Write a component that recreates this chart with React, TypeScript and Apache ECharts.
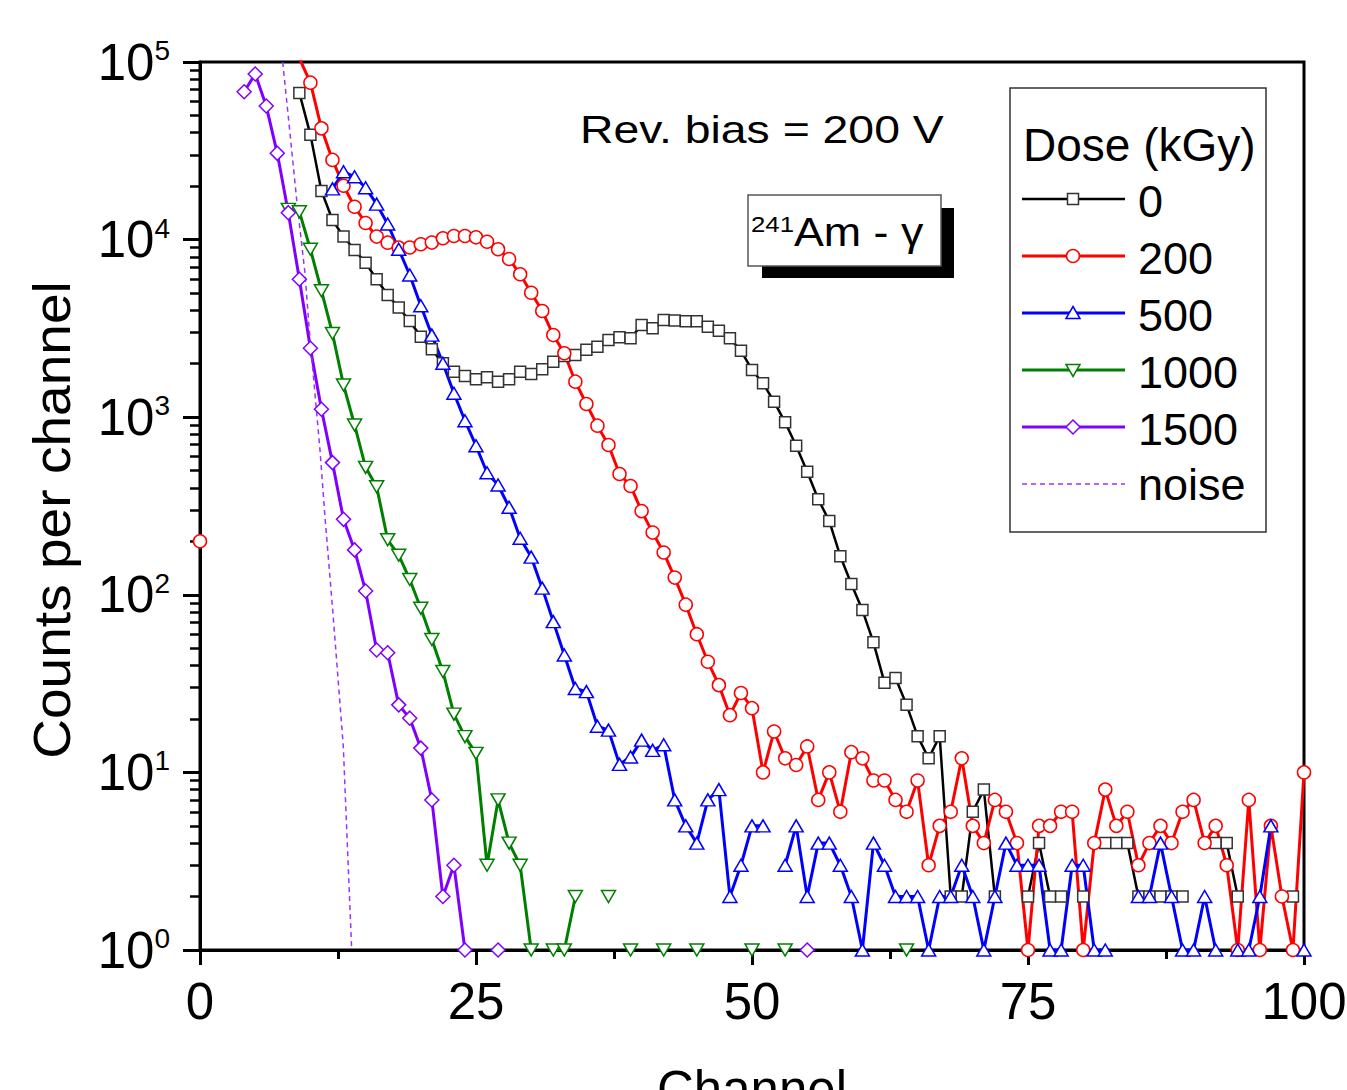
import React, { useEffect, useRef } from 'react';
import * as echarts from 'echarts';

const FONT = '"Liberation Sans", Arial, Helvetica, sans-serif';

// ---- data (channel-indexed counts; null = zero counts, not drawn on log scale) ----
const seriesNames = ['0', '200', '500', '1000', '1500'];
const seriesColors = ['#000000', '#ff0000', '#0000ff', '#008000', '#8000ff'];

const dose0Start = 9;
const dose0 = [
  67000, 39000, 18800, 12900, 10400, 8740, 7410, 5980, 4880, 4140, // 9-18
  3480, 2840, 2410, 2010, 1805, 1706, 1635, 1678, 1585, 1635, // 19-28
  1805, 1750, 1860, 2054, 2212, 2240, 2400, 2495, 2720, 2818, // 29-38
  2780, 3305, 3165, 3526, 3500, 3470, 3470, 3235, 3070, 2780, // 39-48
  2368, 1845, 1552, 1223, 936, 691, 493, 345, 260, 165, // 49-58
  115, 82, 54, 32, 34, 24, 16, 12, 16, 2, // 59-68
  2, 6, 8, 2, null, null, 2, 4, 2, 2, // 69-78
  null, 2, null, 4, 4, 4, 2, 2, 2, 2, // 79-88
  2, null, null, 4, 4, 2, null, null, null, null, // 89-98
  2, null, // 99-100
];

const dose200Start = 0;
const dose200 = [
  200, null, null, null, null, null, null, null, null, 105000, // 0-9
  76500, 42300, 28100, 20100, 15300, 12400, 10400, 9610, 9010, 9030, // 10-19
  9410, 9620, 10170, 10480, 10480, 10300, 9730, 8820, 7780, 6380, // 20-29
  5020, 3963, 2900, 2290, 1585, 1187, 896, 697, 479, 410, // 30-39
  296, 224, 173, 125, 88, 60, 42, 31, 21, 28, // 40-49
  23, 10, 17, 12, 11, 14, 7, 10, 6, 13, // 50-59
  12, 9, 9, 7, 6, 9, 3, 5, 6, 12, // 60-69
  5, 4, 7, 6, 4, 1, 5, 5, 6, 6, // 70-79
  1, 4, 8, 5, 6, 3, 4, 5, 4, 6, // 80-89
  7, 4, 5, 3, 1, 7, 1, 5, 2, 1, // 90-99
  10, // 100
];

const dose500Start = 12;
const dose500 = [
  19300, 24100, 22600, 19600, 15850, 12240, 8820, 6320, 4245, 2900, // 12-21
  2012, 1364, 955, 691, 487, 415, 311, 208, 163, 109, // 22-31
  70.6, 45.8, 29.7, 28.5, 18.2, 17.3, 11.1, 12.2, 15.2, 13.3, // 32-41
  14.3, 7, 5, 4, 7, 8, 2, 3, 5, 5, // 42-51
  null, 3, 5, 2, 4, 4, 3, 2, 1, 4, // 52-61
  3, 2, 2, 2, 1, 2, 2, 3, 2, 1, // 62-71
  2, 4, 3, 3, 3, 1, 1, 3, 3, 1, // 72-81
  1, null, null, 2, 2, 4, 2, 1, 1, 2, // 82-91
  1, null, 1, 1, 2, 5, null, null, 1, // 92-100
];

const dose1000Start = 8;
const dose1000 = [
  14800, 14360, 8820, 5155, 2960, 1518, 904, 522, 406, 204, // 8-17
  167, 122, 84, 56, 37, 21.3, 15.9, 12.8, 3, 7, // 18-27
  4, 3, 1, null, 1, 1, 2, null, null, 2, // 28-37
  null, 1, null, null, 1, null, null, 1, null, null, // 38-47
  null, null, 1, null, null, 1, null, null, null, null, // 48-57
  null, null, null, null, null, null, 1, // 58-64
];

const dose1500Start = 4;
const dose1500 = [
  68000, 85600, 56500, 30600, 14180, 5980, 2443, 1108, 555, 266, // 4-13
  179, 105, 48.9, 47.2, 24, 20.2, 13.7, 7, 2, 3, // 14-23
  1, null, null, 1, null, null, null, null, null, null, // 24-33
  null, null, null, null, null, null, null, null, null, null, // 34-43
  null, null, null, null, null, null, null, null, null, null, // 44-53
  null, 1, // 54-55
];

const noiseX = [7.49, 8.09, 8.76, 9.51, 9.9, 10.87, 11.32, 12.07, 12.98, 13.74];
const noiseY = [100000, 43300, 16700, 6460, 3100, 653, 275, 75, 14, 1];

const xTickInterval = 25;
const yMin = 1;
const yMax = 100000;

const symbols = ['rect', 'circle', 'triangle', 'triangle', 'diamond'];
const symbolRotates = [0, 0, 0, 180, 0];
const symbolSizes: any[] = [11, 13, [14, 12], [14, 12], 14];
const lineWidths = [2.5, 3, 3, 3, 3];

const starts = [dose0Start, dose200Start, dose500Start, dose1000Start, dose1500Start];
const values = [dose0, dose200, dose500, dose1000, dose1500];

function toPairs(start: number, arr: (number | null)[]) {
  return arr.map((v, i) => [start + i, v == null ? '-' : v]);
}

function legendGraphics() {
  const ys = [199, 256, 313, 370, 427, 484];
  const cx = 1073;
  const els: any[] = [];
  els.push({
    type: 'rect',
    shape: { x: 1010, y: 88, width: 256, height: 444 },
    style: { fill: '#fff', stroke: '#333', lineWidth: 1.5 },
    z: 10,
  });
  els.push({
    type: 'text',
    x: 1023,
    y: 145,
    style: { text: 'Dose (kGy)', font: `46px ${FONT}`, fill: '#000', verticalAlign: 'middle', align: 'left' },
    z: 11,
  });
  seriesNames.forEach((name, i) => {
    const y = ys[i];
    const c = seriesColors[i];
    els.push({
      type: 'line',
      shape: { x1: 1022, y1: y, x2: 1125, y2: y },
      style: { stroke: c, lineWidth: lineWidths[i] },
      z: 11,
    });
    let m: any;
    const st = { fill: '#fff', stroke: i === 0 ? '#333' : c, lineWidth: 1.5 };
    if (i === 0) m = { type: 'rect', shape: { x: cx - 5.5, y: y - 5.5, width: 11, height: 11 }, style: st };
    else if (i === 1) m = { type: 'circle', shape: { cx, cy: y, r: 6.5 }, style: st };
    else if (i === 2) m = { type: 'polygon', shape: { points: [[cx, y - 6.5], [cx + 7, y + 5.5], [cx - 7, y + 5.5]] }, style: st };
    else if (i === 3) m = { type: 'polygon', shape: { points: [[cx - 7, y - 5.5], [cx + 7, y - 5.5], [cx, y + 6.5]] }, style: st };
    else m = { type: 'polygon', shape: { points: [[cx, y - 7], [cx + 7, y], [cx, y + 7], [cx - 7, y]] }, style: st };
    m.z = 12;
    els.push(m);
    els.push({
      type: 'text',
      x: 1138,
      y: y + 2,
      style: { text: name, font: `45px ${FONT}`, fill: '#000', verticalAlign: 'middle', align: 'left' },
      z: 11,
    });
  });
  const ny = ys[5];
  els.push({
    type: 'line',
    shape: { x1: 1022, y1: ny, x2: 1125, y2: ny },
    style: { stroke: '#9933ff', lineWidth: 1.5, lineDash: [5, 4] },
    z: 11,
  });
  els.push({
    type: 'text',
    x: 1138,
    y: ny,
    style: { text: 'noise', font: `45px ${FONT}`, fill: '#000', verticalAlign: 'middle', align: 'left' },
    z: 11,
  });
  return els;
}

export default function App() {
  const ref = useRef<HTMLDivElement>(null);

  useEffect(() => {
    if (!ref.current) return;
    const chart = echarts.init(ref.current, undefined, { renderer: 'svg' });

    const minorVals: number[] = [];
    for (let d = 0; d < 5; d++) {
      for (let k = 2; k <= 9; k++) minorVals.push(d + Math.log10(k));
    }

    const mainSeries = seriesNames.map((name, i) => ({
      name,
      type: 'line',
      xAxisIndex: 0,
      yAxisIndex: 0,
      data: toPairs(starts[i], values[i]),
      connectNulls: false,
      clip: true,
      symbol: symbols[i],
      symbolRotate: symbolRotates[i],
      symbolSize: symbolSizes[i],
      showAllSymbol: true,
      color: seriesColors[i],
      lineStyle: { color: seriesColors[i], width: lineWidths[i] },
      itemStyle: { color: '#ffffff', borderColor: i === 0 ? '#333333' : seriesColors[i], borderWidth: 1.5 },
      emphasis: { disabled: true },
    }));

    const noiseSeries = {
      name: 'noise',
      type: 'line',
      xAxisIndex: 0,
      yAxisIndex: 0,
      data: noiseX.map((x, i) => [x, noiseY[i]]),
      symbol: 'none',
      clip: true,
      lineStyle: { color: '#9933ff', width: 1.5, type: [5, 4] },
      emphasis: { disabled: true },
    };

    chart.setOption({
      animation: false,
      backgroundColor: '#ffffff',
      grid: {
        left: 200,
        right: 43,
        top: 62,
        bottom: 140,
        containLabel: false,
        outerBoundsMode: 'none',
        show: true,
        borderColor: '#000',
        borderWidth: 3,
        backgroundColor: 'transparent',
      },
      xAxis: {
        type: 'value',
        min: 0,
        max: 100,
        interval: xTickInterval,
        axisLine: { onZero: false, lineStyle: { color: '#000', width: 3 } },
        axisTick: { length: 15, lineStyle: { color: '#000', width: 3 } },
        minorTick: { show: true, splitNumber: 2, length: 9, lineStyle: { color: '#000', width: 3 } },
        splitLine: { show: false },
        axisLabel: { fontSize: 51, color: '#000', fontFamily: FONT, margin: 26 },
        name: 'Channel',
        nameLocation: 'middle',
        nameGap: 114,
        nameTextStyle: { fontSize: 51, color: '#000', fontFamily: FONT },
      },
      yAxis: [
        {
          type: 'log',
          logBase: 10,
          min: yMin,
          max: yMax,
          splitNumber: 5,
          axisLine: { lineStyle: { color: '#000', width: 3 } },
          axisTick: { length: 17, lineStyle: { color: '#000', width: 3 } },
          splitLine: { show: false },
          axisLabel: {
            margin: 30,
            formatter: (v: number) => '{b|10}{s|' + Math.round(Math.log10(v)) + '}',
            rich: {
              b: { fontSize: 51, fontFamily: FONT, color: '#000' },
              s: { fontSize: 28, fontFamily: FONT, color: '#000', verticalAlign: 'top' },
            },
          },
        },
        {
          type: 'value',
          min: 0,
          max: 5,
          position: 'left',
          axisLine: { show: false },
          axisLabel: { show: false },
          splitLine: { show: false },
          axisTick: { show: true, length: 10, customValues: minorVals, lineStyle: { color: '#000', width: 2.5 } },
        },
      ],
      series: [...mainSeries, noiseSeries],
      graphic: [
        {
          type: 'text',
          x: 52,
          y: 520,
          rotation: Math.PI / 2,
          scaleX: 1.08,
          style: {
            text: 'Counts per channel',
            font: `51px ${FONT}`,
            fill: '#000',
            align: 'center',
            verticalAlign: 'middle',
          },
        },
        {
          type: 'text',
          x: 580,
          y: 130,
          scaleX: 1.22,
          style: {
            text: 'Rev. bias = 200 V',
            font: `38px ${FONT}`,
            fill: '#000',
            align: 'left',
            verticalAlign: 'middle',
          },
        },
        {
          type: 'rect',
          shape: { x: 762, y: 208, width: 192, height: 70 },
          style: { fill: '#000' },
          z: 5,
        },
        {
          type: 'rect',
          shape: { x: 748, y: 195, width: 193, height: 71 },
          style: { fill: '#fff', stroke: '#555', lineWidth: 1.5 },
          z: 6,
        },
        {
          type: 'text',
          x: 751,
          y: 232,
          scaleX: 1.12,
          z: 7,
          style: {
            text: '{sup|241}{m|Am - γ}',
            align: 'left',
            verticalAlign: 'middle',
            rich: {
              sup: { fontSize: 23, fontFamily: FONT, fill: '#000', verticalAlign: 'top' },
              m: { fontSize: 40, fontFamily: FONT, fill: '#000' },
            },
          },
        },
        ...legendGraphics(),
      ],
    });

    return () => chart.dispose();
  }, []);

  return (
    <div
      ref={ref}
      style={{ position: 'fixed', left: 0, top: 0, width: 1347, height: 1090, background: '#fff' }}
    />
  );
}
